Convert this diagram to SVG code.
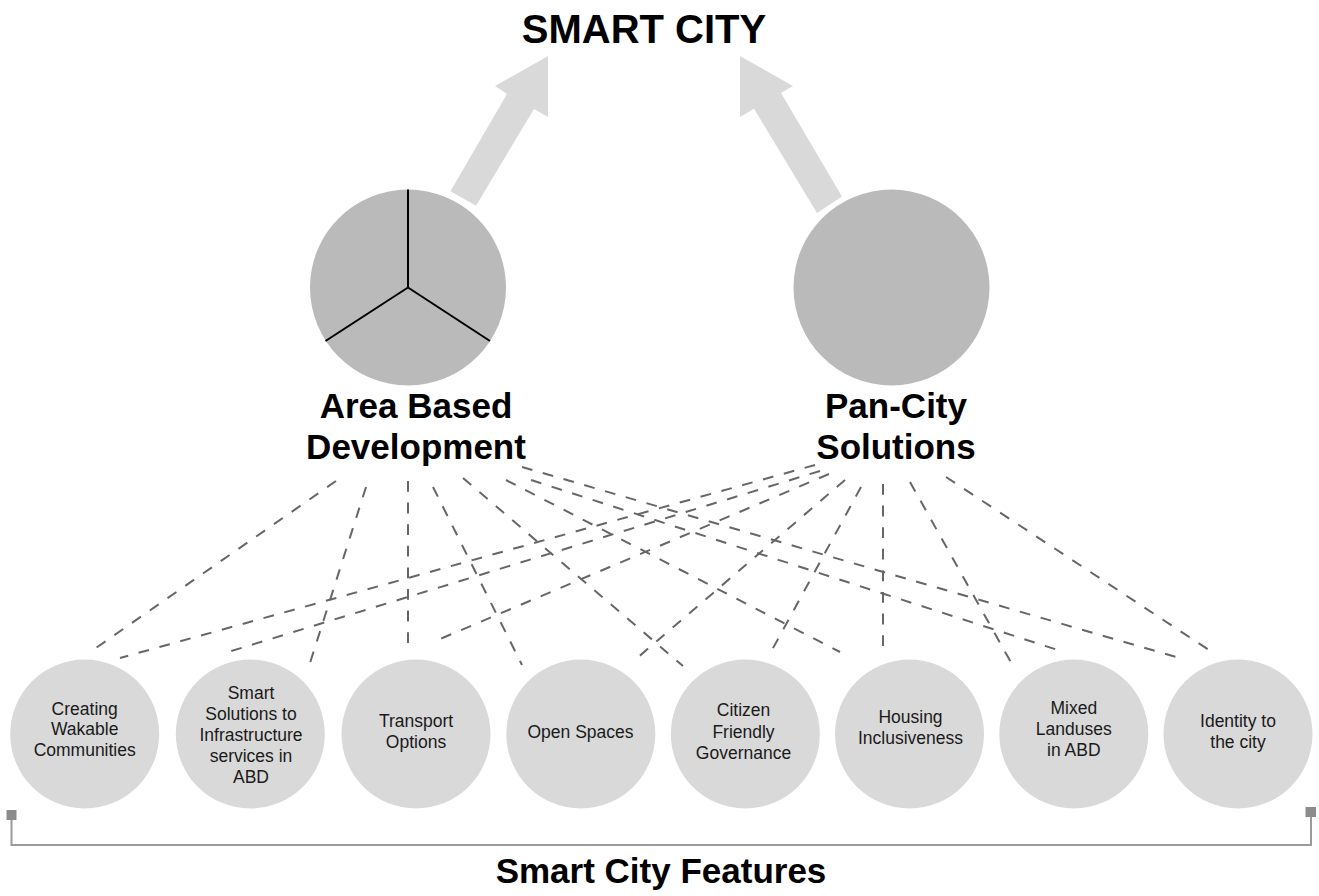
<svg xmlns="http://www.w3.org/2000/svg" width="1319" height="896" viewBox="0 0 1319 896">
<style>
.title{font-family:"Liberation Sans",Arial,Helvetica,sans-serif;font-weight:bold;fill:#000;text-anchor:middle}
.big{fill:#bababa}
.small{fill:#d9d9d9}
.lbl{font-family:"Liberation Sans",Arial,Helvetica,sans-serif;font-size:17.5px;fill:#1a1a1a;text-anchor:middle}
.arrow{fill:#d9d9d9}
.dash{stroke:#666;stroke-width:2;stroke-dasharray:10.8 10.8;fill:none}
.brk{stroke:#9a9a9a;stroke-width:2;fill:none}
</style>
<rect width="1319" height="896" fill="#fff"/>
<g id="title"><text class="title" x="644" y="43" font-size="40">SMART CITY</text></g>
<g id="arrows">
<polygon class="arrow" points="450.4,191.2 507,94 495,86 548,56 548,117 534,109 476,205.7"/>
<polygon class="arrow" points="842,196.5 781,93 793,86 740,56 740,117 754,108.8 817,213"/>
</g>
<g id="connectors">
<line class="dash" x1="336" y1="481" x2="93" y2="650"/>
<line class="dash" x1="366" y1="487" x2="309" y2="666"/>
<line class="dash" x1="408" y1="481" x2="408" y2="644"/>
<line class="dash" x1="433" y1="487" x2="522" y2="665"/>
<line class="dash" x1="463" y1="478" x2="683" y2="666"/>
<line class="dash" x1="506" y1="480" x2="840" y2="652"/>
<line class="dash" x1="531" y1="480" x2="1064" y2="652"/>
<line class="dash" x1="522" y1="467" x2="1183" y2="659"/>
<line class="dash" x1="815" y1="465" x2="120" y2="658"/>
<line class="dash" x1="820" y1="471" x2="228" y2="652"/>
<line class="dash" x1="829" y1="474" x2="433" y2="642"/>
<line class="dash" x1="845" y1="480" x2="636" y2="659"/>
<line class="dash" x1="861" y1="487" x2="772" y2="650"/>
<line class="dash" x1="883" y1="484" x2="883" y2="656"/>
<line class="dash" x1="910" y1="482" x2="1013" y2="666"/>
<line class="dash" x1="946" y1="477" x2="1212" y2="652"/>
</g>
<g id="abd">
<circle class="big" cx="408" cy="287.5" r="98"/>
<line x1="408" y1="189.5" x2="408" y2="287.5" stroke="#000" stroke-width="2"/>
<line x1="408" y1="287.5" x2="325.5" y2="341" stroke="#000" stroke-width="2"/>
<line x1="408" y1="287.5" x2="490" y2="341" stroke="#000" stroke-width="2"/>
<text class="title" font-size="35" x="416" y="418">Area Based</text>
<text class="title" font-size="35" x="416" y="459">Development</text>
</g>
<g id="pancity">
<circle class="big" cx="891.5" cy="287.5" r="98"/>
<text class="title" font-size="35" x="896" y="418">Pan-City</text>
<text class="title" font-size="35" x="896" y="459">Solutions</text>
</g>
<g id="f1"><circle class="small" cx="84.7" cy="734" r="74.5"/>
<text class="lbl" x="84.7" y="714.5">Creating</text><text class="lbl" x="84.7" y="735">Wakable</text><text class="lbl" x="84.7" y="755.7">Communities</text></g>
<g id="f2"><circle class="small" cx="250.3" cy="734" r="74.5"/>
<text class="lbl" x="251" y="699.3">Smart</text><text class="lbl" x="251" y="720">Solutions to</text><text class="lbl" x="251" y="741">Infrastructure</text><text class="lbl" x="251" y="761.7">services in</text><text class="lbl" x="251" y="783">ABD</text></g>
<g id="f3"><circle class="small" cx="416" cy="734" r="74.5"/>
<text class="lbl" x="416" y="727.3">Transport</text><text class="lbl" x="416" y="748">Options</text></g>
<g id="f4"><circle class="small" cx="580.8" cy="734" r="74.5"/>
<text class="lbl" x="580.5" y="738">Open Spaces</text></g>
<g id="f5"><circle class="small" cx="745.3" cy="734" r="74.5"/>
<text class="lbl" x="743.5" y="716">Citizen</text><text class="lbl" x="743.5" y="737.5">Friendly</text><text class="lbl" x="743.5" y="759">Governance</text></g>
<g id="f6"><circle class="small" cx="909.5" cy="734" r="74.5"/>
<text class="lbl" x="910.5" y="723.3">Housing</text><text class="lbl" x="910.5" y="744">Inclusiveness</text></g>
<g id="f7"><circle class="small" cx="1073.8" cy="734" r="74.5"/>
<text class="lbl" x="1073.8" y="714">Mixed</text><text class="lbl" x="1073.8" y="735">Landuses</text><text class="lbl" x="1073.8" y="755.7">in ABD</text></g>
<g id="f8"><circle class="small" cx="1238" cy="734" r="74.5"/>
<text class="lbl" x="1238" y="727.3">Identity to</text><text class="lbl" x="1238" y="748.3">the city</text></g>
<g id="bracket">
<polyline class="brk" points="11.5,818 11.5,845 1311,845 1311,815"/>
<rect x="6.5" y="810" width="10" height="10" fill="#8c8c8c"/>
<rect x="1305.5" y="807" width="10.5" height="10" fill="#8c8c8c"/>
<text class="title" font-size="35" x="661" y="883">Smart City Features</text>
</g>
</svg>
